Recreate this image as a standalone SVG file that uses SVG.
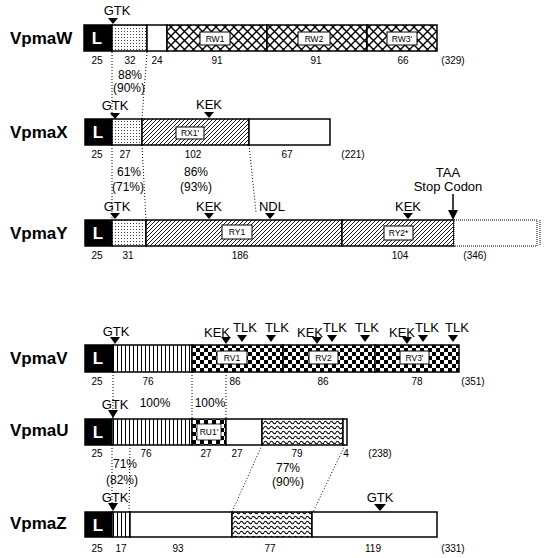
<svg xmlns="http://www.w3.org/2000/svg" width="546" height="558" viewBox="0 0 546 558">
<defs>
<pattern id="dots" width="3" height="3" patternUnits="userSpaceOnUse"><rect width="3" height="3" fill="#fff"/><rect x="1" y="1" width="1" height="1" fill="#444"/></pattern>
<pattern id="cross" width="9" height="9" patternUnits="userSpaceOnUse"><rect width="9" height="9" fill="#fff"/><path d="M0,0 L9,9 M9,0 L0,9" stroke="#000" stroke-width="1.4"/></pattern>
<pattern id="hatch" width="4" height="4" patternUnits="userSpaceOnUse"><rect width="4" height="4" fill="#fff"/><path d="M-1,1 L1,-1 M0,4 L4,0 M3,5 L5,3" stroke="#000" stroke-width="0.9"/></pattern>
<pattern id="vert" width="4" height="4" patternUnits="userSpaceOnUse"><rect width="4" height="4" fill="#fff"/><rect x="1" width="1" height="4" fill="#000"/></pattern>
<pattern id="check" width="8" height="8" patternUnits="userSpaceOnUse"><rect width="8" height="8" fill="#fff"/><rect width="4" height="4" fill="#000"/><rect x="4" y="4" width="4" height="4" fill="#000"/></pattern>
<pattern id="wavy" width="6" height="5" patternUnits="userSpaceOnUse"><rect width="6" height="5" fill="#fff"/><path d="M0,2.5 Q1.5,0 3,2.5 T6,2.5" fill="none" stroke="#000" stroke-width="1.1"/></pattern>
</defs>
<style>
.nm{font-family:"Liberation Sans",Arial,sans-serif;font-weight:bold;font-size:17px;fill:#000}
.lb{font-family:"Liberation Sans",Arial,sans-serif;font-size:13px;fill:#000;text-anchor:middle}
.num{font-family:"Liberation Sans",Arial,sans-serif;font-size:10px;fill:#000;text-anchor:middle}
.pc{font-family:"Liberation Sans",Arial,sans-serif;font-size:12px;fill:#000;text-anchor:middle}
.bx{font-family:"Liberation Sans",Arial,sans-serif;font-size:8.5px;fill:#000;text-anchor:middle}
.L{font-family:"Liberation Sans",Arial,sans-serif;font-weight:bold;font-size:17px;fill:#fff;text-anchor:middle}
.seg{stroke:#000;stroke-width:1.5}
.box{fill:#fff;stroke:#000;stroke-width:1}
.dl{fill:none;stroke:#000;stroke-width:1;stroke-dasharray:1,2}
</style>

<g id="connectors">
<line class="dl" x1="112" y1="52" x2="112" y2="118"/>
<line class="dl" x1="147" y1="52" x2="142" y2="119"/>
<line class="dl" x1="112" y1="145" x2="112" y2="220"/>
<line class="dl" x1="142" y1="145" x2="146" y2="220"/>
<line class="dl" x1="249" y1="145" x2="256" y2="212"/>
<line class="dl" x1="113" y1="372" x2="113" y2="419"/>
<line class="dl" x1="192" y1="372" x2="192" y2="419"/>
<line class="dl" x1="226" y1="372" x2="226" y2="419"/>
<line class="dl" x1="112" y1="445" x2="112" y2="512"/>
<line class="dl" x1="130" y1="445" x2="129" y2="512"/>
<line class="dl" x1="262" y1="445" x2="232" y2="512"/>
<line class="dl" x1="345" y1="445" x2="313" y2="512"/>
</g>

<g id="VpmaW">
<text class="nm" x="10" y="44">VpmaW</text>
<rect class="seg" x="84" y="25" width="28" height="26" fill="#000"/>
<text class="L" x="97" y="44">L</text>
<rect class="seg" x="112" y="25" width="35" height="26" fill="url(#dots)"/>
<rect class="seg" x="147" y="25" width="20" height="26" fill="#fff"/>
<rect class="seg" x="167" y="25" width="100" height="26" fill="url(#cross)"/>
<rect class="seg" x="267" y="25" width="100" height="26" fill="url(#cross)"/>
<rect class="seg" x="367" y="25" width="70" height="26" fill="url(#cross)"/>
<rect class="box" x="200" y="32" width="30" height="13"/><text class="bx" x="215" y="41.5">RW1</text>
<rect class="box" x="298" y="32" width="32" height="13"/><text class="bx" x="314" y="41.5">RW2</text>
<rect class="box" x="387" y="32" width="30" height="13"/><text class="bx" x="402" y="41.5">RW3'</text>
<text class="lb" x="117" y="15">GTK</text>
<path d="M108,18 L118,18 L113,24 Z" fill="#000"/>
<text class="num" x="97" y="64">25</text>
<text class="num" x="130" y="64">32</text>
<text class="num" x="157" y="64">24</text>
<text class="num" x="217" y="64">91</text>
<text class="num" x="316" y="64">91</text>
<text class="num" x="403" y="64">66</text>
<text class="num" x="453" y="64">(329)</text>
<text class="pc" x="130" y="79">88%</text>
<text class="pc" x="129" y="92">(90%)</text>
</g>

<g id="VpmaX">
<text class="nm" x="10" y="138">VpmaX</text>
<rect class="seg" x="85" y="119" width="27" height="26" fill="#000"/>
<text class="L" x="98" y="138">L</text>
<rect class="seg" x="112" y="119" width="30" height="26" fill="url(#dots)"/>
<rect class="seg" x="142" y="119" width="107" height="26" fill="url(#hatch)"/>
<rect class="seg" x="249" y="119" width="81" height="26" fill="#fff"/>
<rect class="box" x="176" y="127" width="28" height="12"/><text class="bx" x="190" y="136">RX1'</text>
<text class="lb" x="115" y="110">GTK</text>
<path d="M110,113 L120,113 L115,119 Z" fill="#000"/>
<text class="lb" x="209" y="109">KEK</text>
<path d="M204,112 L214,112 L209,118 Z" fill="#000"/>
<text class="num" x="97" y="158">25</text>
<text class="num" x="125" y="158">27</text>
<text class="num" x="193" y="158">102</text>
<text class="num" x="287" y="158">67</text>
<text class="num" x="353" y="158">(221)</text>
<text class="pc" x="129" y="176">61%</text>
<text class="pc" x="128" y="191">(71%)</text>
<text class="pc" x="196" y="176">86%</text>
<text class="pc" x="196" y="191">(93%)</text>
</g>

<g id="VpmaY">
<text class="nm" x="10" y="239">VpmaY</text>
<rect class="seg" x="85" y="220" width="27" height="26" fill="#000"/>
<text class="L" x="98" y="239">L</text>
<rect class="seg" x="112" y="220" width="34" height="26" fill="url(#dots)"/>
<rect class="seg" x="146" y="220" width="196" height="26" fill="url(#hatch)"/>
<rect class="seg" x="342" y="220" width="112" height="26" fill="url(#hatch)"/>
<rect x="454" y="220" width="83" height="26" fill="#fff" stroke="#000" stroke-width="1" stroke-dasharray="1,1"/>
<line x1="540" y1="220" x2="540" y2="246" stroke="#000" stroke-width="1" stroke-dasharray="1,1"/>
<rect class="box" x="222" y="225" width="30" height="14"/><text class="bx" x="237" y="235">RY1</text>
<rect class="box" x="384" y="226" width="29" height="14"/><text class="bx" x="398.5" y="236">RY2*</text>
<text class="lb" x="117" y="211">GTK</text>
<path d="M110,213 L120,213 L115,219 Z" fill="#000"/>
<text class="lb" x="209" y="211">KEK</text>
<path d="M204,213 L214,213 L209,219 Z" fill="#000"/>
<text class="lb" x="272" y="211">NDL</text>
<path d="M265,213 L275,213 L270,219 Z" fill="#000"/>
<text class="lb" x="408" y="211">KEK</text>
<path d="M403,213 L413,213 L408,219 Z" fill="#000"/>
<text class="lb" x="448" y="177">TAA</text>
<text class="lb" x="448" y="191">Stop Codon</text>
<line x1="453" y1="194" x2="453" y2="212" stroke="#000" stroke-width="1.5"/>
<path d="M448,210 L458,210 L453,220 Z" fill="#000"/>
<text class="num" x="97" y="259">25</text>
<text class="num" x="128" y="259">31</text>
<text class="num" x="240" y="259">186</text>
<text class="num" x="400" y="259">104</text>
<text class="num" x="475" y="259">(346)</text>
</g>

<g id="VpmaV">
<text class="nm" x="10" y="364">VpmaV</text>
<rect class="seg" x="85" y="345" width="28" height="27" fill="#000"/>
<text class="L" x="98" y="364">L</text>
<rect class="seg" x="113" y="345" width="79" height="27" fill="url(#vert)"/>
<rect class="seg" x="192" y="345" width="91" height="27" fill="url(#check)"/>
<rect class="seg" x="283" y="345" width="92" height="27" fill="url(#check)"/>
<rect class="seg" x="375" y="345" width="84" height="27" fill="url(#check)"/>
<rect class="box" x="217" y="351" width="30" height="13"/><text class="bx" x="232" y="360.5">RV1</text>
<rect class="box" x="309" y="351" width="29" height="13"/><text class="bx" x="323.5" y="360.5">RV2</text>
<rect class="box" x="400" y="351" width="29" height="13"/><text class="bx" x="414.5" y="360.5">RV3'</text>
<text class="lb" x="116" y="336">GTK</text>
<path d="M110,337 L120,337 L115,344 Z" fill="#000"/>
<text class="lb" x="217" y="337">KEK</text>
<path d="M221,337 L231,337 L226,344 Z" fill="#000"/>
<text class="lb" x="245" y="332">TLK</text>
<path d="M237,335 L247,335 L242,342 Z" fill="#000"/>
<text class="lb" x="277" y="332">TLK</text>
<path d="M266,335 L276,335 L271,342 Z" fill="#000"/>
<text class="lb" x="310" y="337">KEK</text>
<path d="M312,337 L322,337 L317,344 Z" fill="#000"/>
<text class="lb" x="335" y="332">TLK</text>
<path d="M327,335 L337,335 L332,342 Z" fill="#000"/>
<text class="lb" x="367" y="332">TLK</text>
<path d="M360,335 L370,335 L365,342 Z" fill="#000"/>
<text class="lb" x="402" y="337">KEK</text>
<path d="M402,337 L412,337 L407,344 Z" fill="#000"/>
<text class="lb" x="427" y="332">TLK</text>
<path d="M418,335 L428,335 L423,342 Z" fill="#000"/>
<text class="lb" x="457" y="332">TLK</text>
<path d="M448,335 L458,335 L453,342 Z" fill="#000"/>
<text class="num" x="97" y="385">25</text>
<text class="num" x="148" y="385">76</text>
<text class="num" x="235" y="385">86</text>
<text class="num" x="323" y="385">86</text>
<text class="num" x="417" y="385">78</text>
<text class="num" x="473" y="385">(351)</text>
<text class="pc" x="155" y="407">100%</text>
<text class="pc" x="210" y="407">100%</text>
</g>

<g id="VpmaU">
<text class="nm" x="10" y="436">VpmaU</text>
<rect class="seg" x="85" y="419" width="27" height="26" fill="#000"/>
<text class="L" x="98" y="438">L</text>
<rect class="seg" x="112" y="419" width="80" height="26" fill="url(#vert)"/>
<rect class="seg" x="192" y="419" width="34" height="26" fill="url(#check)"/>
<rect x="197" y="424" width="24" height="16" fill="#fff" stroke="#000" stroke-width="0.8"/>
<text class="bx" x="209" y="435">RU1'</text>
<rect class="seg" x="226" y="419" width="36" height="26" fill="#fff"/>
<rect class="seg" x="262" y="419" width="81" height="26" fill="url(#wavy)"/>
<rect class="seg" x="343" y="419" width="4" height="26" fill="#fff"/>
<text class="lb" x="115" y="409">GTK</text>
<path d="M108,410 L118,410 L113,418 Z" fill="#000"/>
<text class="num" x="97" y="457">25</text>
<text class="num" x="146" y="457">76</text>
<text class="num" x="206" y="457">27</text>
<text class="num" x="237" y="457">27</text>
<text class="num" x="297" y="457">79</text>
<text class="num" x="346" y="457">4</text>
<text class="num" x="380" y="457">(238)</text>
<text class="pc" x="125" y="468">71%</text>
<text class="pc" x="122" y="484">(82%)</text>
<text class="pc" x="288" y="472">77%</text>
<text class="pc" x="288" y="486">(90%)</text>
</g>

<g id="VpmaZ">
<text class="nm" x="10" y="529">VpmaZ</text>
<rect class="seg" x="85" y="512" width="27" height="25" fill="#000"/>
<text class="L" x="98" y="531">L</text>
<rect class="seg" x="112" y="512" width="18" height="25" fill="url(#vert)"/>
<rect class="seg" x="130" y="512" width="102" height="25" fill="#fff"/>
<rect class="seg" x="232" y="512" width="80" height="25" fill="url(#wavy)"/>
<rect class="seg" x="312" y="512" width="125" height="25" fill="#fff"/>
<text class="lb" x="115" y="502">GTK</text>
<path d="M108,503 L118,503 L113,511 Z" fill="#000"/>
<text class="lb" x="380" y="502">GTK</text>
<path d="M374,504 L386,504 L380,511 Z" fill="#000"/>
<text class="num" x="97" y="552">25</text>
<text class="num" x="121" y="552">17</text>
<text class="num" x="178" y="552">93</text>
<text class="num" x="270" y="552">77</text>
<text class="num" x="373" y="552">119</text>
<text class="num" x="453" y="552">(331)</text>
</g>
</svg>
